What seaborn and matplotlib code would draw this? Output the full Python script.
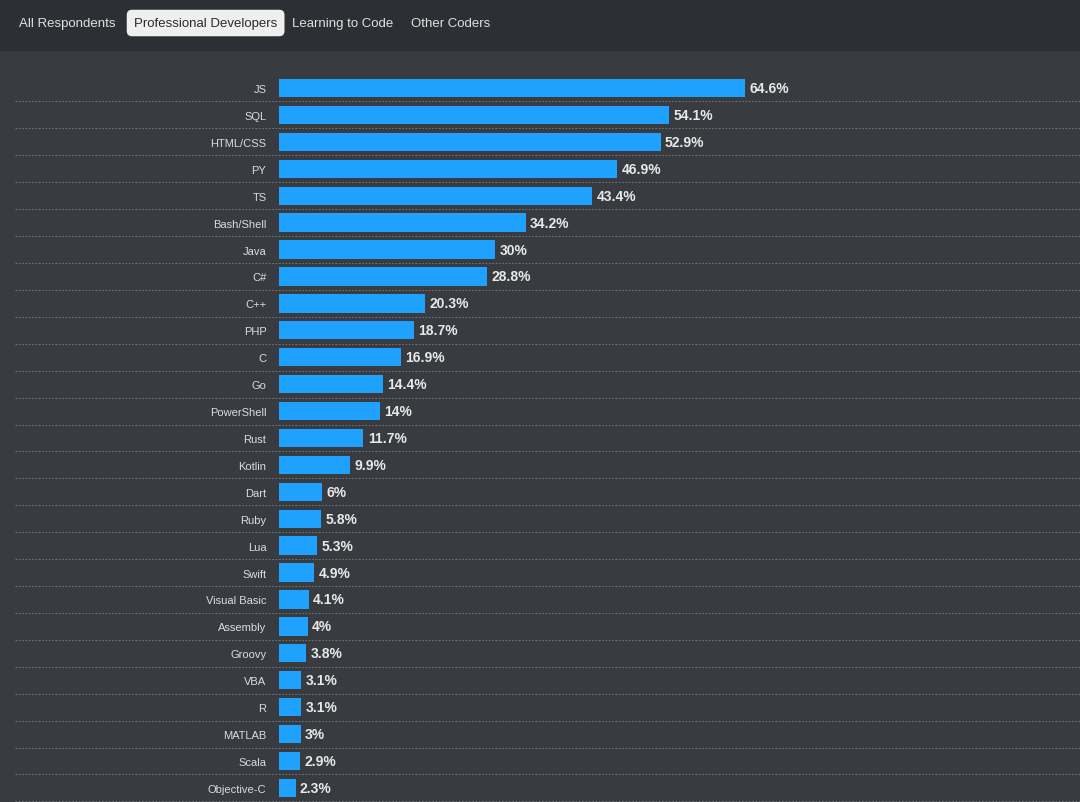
import matplotlib
matplotlib.use("Agg")
from matplotlib import pyplot as plt
from matplotlib.patches import Rectangle
from matplotlib.transforms import blended_transform_factory
import pandas as pd
import seaborn as sns

languages = ["JS", "SQL", "HTML/CSS", "PY", "TS", "Bash/Shell", "Java", "C#", "C++", "PHP",
             "C", "Go", "PowerShell", "Rust", "Kotlin", "Dart", "Ruby", "Lua", "Swift",
             "Visual Basic", "Assembly", "Groovy", "VBA", "R", "MATLAB", "Scala", "Objective-C"]
shares = [64.6, 54.1, 52.9, 46.9, 43.4, 34.2, 30, 28.8, 20.3, 18.7,
          16.9, 14.4, 14, 11.7, 9.9, 6, 5.8, 5.3, 4.9,
          4.1, 4, 3.8, 3.1, 3.1, 3, 2.9, 2.3]
tabs = ["All Respondents", "Professional Developers", "Learning to Code", "Other Coders"]

df = pd.DataFrame({"language": languages, "share": shares})

bg = "#383b40"
top_bg = "#2c2f33"
bar_color = "#1ea1ff"
text_color = "#dcdcdc"

sns.set_style("dark")
plt.rcParams["font.family"] = ["Liberation Sans", "DejaVu Sans"]

fig = plt.figure(figsize=(10.8, 8.03), dpi=100, facecolor=bg)
W, H = 1080, 803
n = len(languages)
row = 26.92
top_px = 89 - row / 2
bottom_px = top_px + row * n
ax = fig.add_axes([279 / W, 1 - bottom_px / H, 1 - 279 / W, (bottom_px - top_px) / H])
ax.set_facecolor(bg)

sns.barplot(data=df, x="share", y="language", color=bar_color, width=0.68,
            saturation=1, ax=ax)
ax.set_xlim(0, 801 / 7.214)
ax.set_ylim(n - 0.5, -0.5)
ax.set_xlabel("")
ax.set_ylabel("")
ax.set_xticks([])
ax.tick_params(axis="y", length=0, pad=9, labelsize=8, labelcolor=text_color)
for s in ax.spines.values():
    s.set_visible(False)

for p in ax.patches:
    p.set_linewidth(0)

for i, v in enumerate(shares):
    label = f"{v:g}%"
    ax.text(v + 0.6, i, label, va="center", ha="left", color="#e8e8e8",
            fontsize=10, fontweight="bold")

# dashed row separators
trans = blended_transform_factory(fig.transFigure, ax.transData)
for i in range(n):
    ax.plot([15 / W, 1.0], [i + 0.5, i + 0.5], transform=trans, clip_on=False,
            color="#7a7d82", linestyle=(0, (2, 2)), linewidth=0.6)

# top tab bar
fig.patches.append(Rectangle((0, 1 - 52 / H), 1, 52 / H, transform=fig.transFigure,
                             facecolor=top_bg, edgecolor="none", zorder=0))
tab_x = [19, 134, 292, 411]
for i, (name, x) in enumerate(zip(tabs, tab_x)):
    if i == 1:
        fig.text(x / W, 1 - 24 / H, name, ha="left", va="center", fontsize=9.5,
                 color="#2a2a2a",
                 bbox=dict(boxstyle="round,pad=0.55,rounding_size=0.4",
                           facecolor="#efefef", edgecolor="none"))
    else:
        fig.text(x / W, 1 - 24 / H, name, ha="left", va="center", fontsize=9.5,
                 color="#e0e0e0")

fig.savefig("out.png", dpi=100, facecolor=bg)
